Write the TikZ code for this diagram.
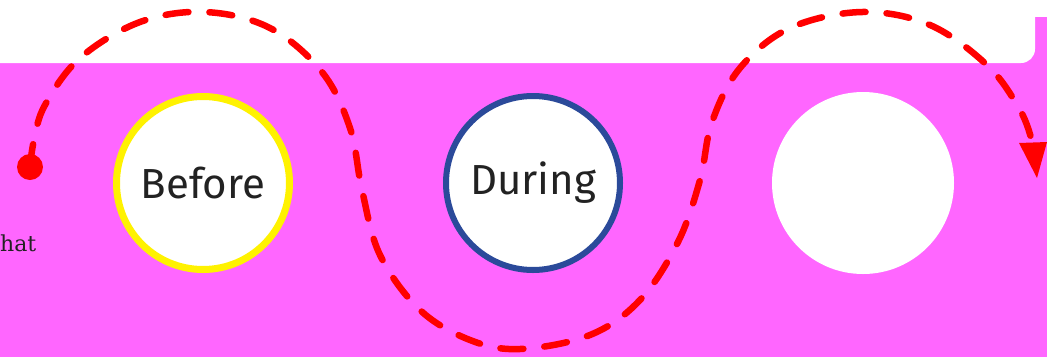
\documentclass[tikz,border=0pt]{standalone}
\usepackage{fontspec}
\setmainfont{DejaVu Serif}
\newfontfamily\labelfont{Fira Sans}
\usetikzlibrary{arrows.meta}
\definecolor{mag}{HTML}{FF66FF}
\definecolor{duringblue}{HTML}{2B4A9A}
\definecolor{pathred}{HTML}{FF0000}
\definecolor{txt}{HTML}{222222}
\tikzset{
  stage/.style={circle, fill=white, inner sep=0pt, minimum size=173pt, line width=7pt,
    font=\labelfont\fontsize{42}{42}\selectfont, text=txt},
  route/.style={draw=pathred, line width=6.5pt, line cap=round, dash pattern=on 23pt off 21pt},
}
\begin{document}
\begin{tikzpicture}[x=1pt,y=-1pt]
\useasboundingbox (0,0) rectangle (1047,357);
\fill[mag] (0,17) rectangle (1047,357);
\fill[white] (0,0) rectangle (1047,17);
\fill[white, rounded corners=14pt] (-20,-20) rectangle (1035,63);
\node[stage, draw=yellow] (before) at (203,183) {Before};
\node[stage, draw=duringblue, line width=6pt, minimum size=174pt] (during) at (533,183) {During};
\node[circle, fill=white, inner sep=0pt, minimum size=182pt] (after) at (863,183) {};
\node[circle, fill=pathred, inner sep=0pt, minimum size=26pt] (dot) at (30,167) {};
\node[anchor=base west, inner sep=0pt, text=txt, font=\fontsize{22}{22}\selectfont] (what) at (0,251) {hat};
\coordinate (tip) at (1037,178);
\draw[route] plot[smooth, tension=0.6] coordinates {(dot.center) (34,140) (45,105) (80,58) (140,22) (205,12) (270,28) (322,72) (350,128) (362,190) (380,255) (420,310) (470,340) (520,349) (590,335) (640,300) (678,242) (700,180) (712,122) (740,68) (790,28) (862,12) (930,25) (988,66) (1020,110) (1031,138)};
\fill[pathred] (tip) -- (1019,143) -- (1047,142) -- cycle;
\end{tikzpicture}
\end{document}
